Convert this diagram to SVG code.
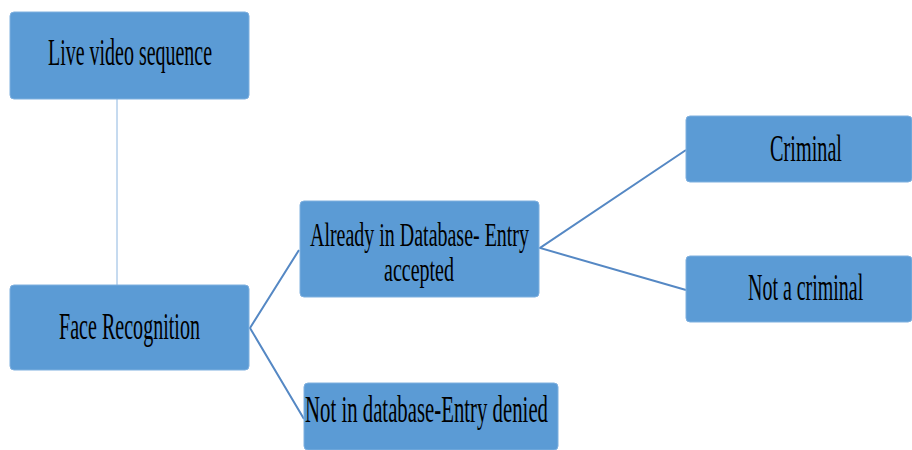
<svg xmlns="http://www.w3.org/2000/svg" width="912" height="450" viewBox="0 0 912 450">
<style>
.box{fill:#5B9BD5;stroke:#7FB0DF;stroke-width:1}
.lbl{font-family:"Liberation Serif","Times New Roman",serif;font-size:37px;fill:#000}
.two{font-size:33px}
.conn{stroke:#5588C4;stroke-width:2;fill:none}
.thin{stroke:#8DB6E0;stroke-width:1;fill:none}
</style>
<rect width="912" height="450" fill="#fff"/>
<g id="connectors">
<line class="thin" x1="117" y1="99" x2="117" y2="285"/>
<polyline class="conn" points="299,250 250,328 304,419"/>
<polyline class="conn" points="686,150 540,248 686,290"/>
</g>
<g id="live">
<rect class="box" x="10" y="12" width="239" height="87" rx="4"/>
<text class="lbl" x="48" y="65" textLength="164" lengthAdjust="spacingAndGlyphs">Live video sequence</text>
</g>
<g id="face">
<rect class="box" x="10" y="285" width="239" height="85" rx="4"/>
<text class="lbl" x="59" y="339" textLength="141" lengthAdjust="spacingAndGlyphs">Face Recognition</text>
</g>
<g id="already">
<rect class="box" x="300" y="201" width="239" height="96" rx="4"/>
<text class="lbl two" x="310" y="246" textLength="219" lengthAdjust="spacingAndGlyphs">Already in Database- Entry</text>
<text class="lbl two" x="384" y="281" textLength="70" lengthAdjust="spacingAndGlyphs">accepted</text>
</g>
<g id="criminal">
<rect class="box" x="686" y="116" width="226" height="66" rx="4"/>
<text class="lbl" x="770" y="161" textLength="72" lengthAdjust="spacingAndGlyphs">Criminal</text>
</g>
<g id="notcriminal">
<rect class="box" x="686" y="256" width="226" height="66" rx="4"/>
<text class="lbl" transform="translate(748 300) scale(0.6 1)" x="0" y="0" textLength="192" lengthAdjust="spacingAndGlyphs">Not a criminal</text>
</g>
<g id="notindb">
<rect class="box" x="304" y="383" width="254" height="67" rx="4"/>
<text class="lbl" x="305" y="422" textLength="243" lengthAdjust="spacingAndGlyphs">Not in database-Entry denied</text>
</g>
</svg>
